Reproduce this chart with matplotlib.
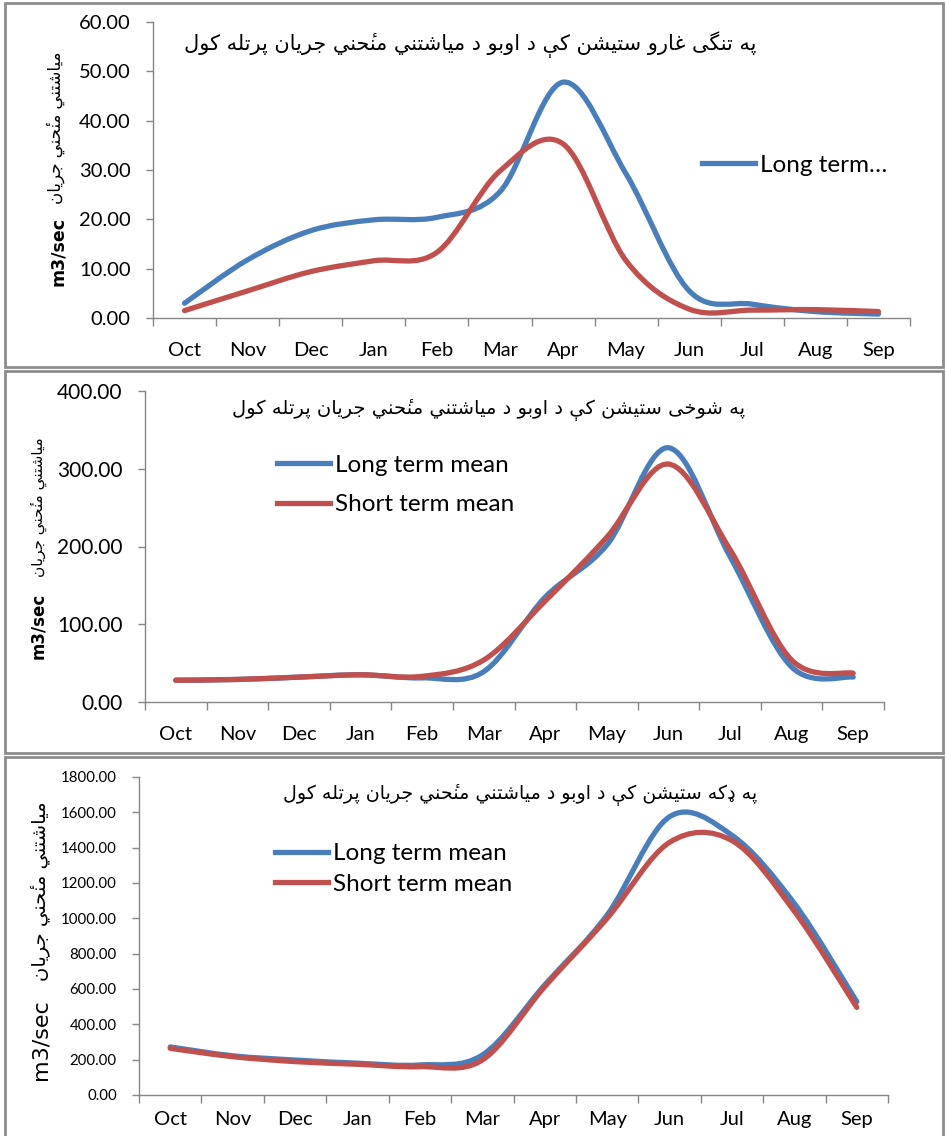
"""
three stacked monthly-mean-flow charts (long term vs short term mean)
for the Tangi Gharu, Shukhi and Dakah stations, Excel-style smoothed lines.
"""
import matplotlib
matplotlib.use("Agg")
import matplotlib.pyplot as plt
from matplotlib.path import Path
from matplotlib.patches import PathPatch, Rectangle
from matplotlib.lines import Line2D
from matplotlib.ticker import FormatStrFormatter, MultipleLocator, FixedLocator

plt.rcParams["font.family"] = ["Lato", "DejaVu Sans"]

MONTHS = ["Oct", "Nov", "Dec", "Jan", "Feb", "Mar",
          "Apr", "May", "Jun", "Jul", "Aug", "Sep"]

# Tangi Gharu
TANGI_LONG = [3.0, 11.8, 17.7, 19.9, 20.4, 25.6, 47.8, 29.2, 5.5, 2.8, 1.3, 0.8]
TANGI_SHORT = [1.5, 5.5, 9.4, 11.6, 13.3, 29.8, 35.3, 11.6, 1.8, 1.6, 1.7, 1.3]
# Shukhi
SHUKHI_LONG = [28, 29, 32, 35, 31, 39, 135, 202, 327, 187, 45, 32]
SHUKHI_SHORT = [28, 29, 32, 35, 33, 54, 130, 212, 306, 196, 54, 37]
# Dakah
DAKAH_LONG = [272, 222, 198, 180, 170, 226, 623, 1019, 1575, 1470, 1084, 528]
DAKAH_SHORT = [264, 217, 189, 174, 160, 198, 613, 1000, 1430, 1440, 1040, 496]

TITLE_TANGI = "په تنگی غارو ستيشن كې د اوبو د مياشتني منځني جريان پرتله كول"
TITLE_SHUKHI = "په شوخی ستيشن كې د اوبو د مياشتني منځني جريان پرتله كول"
TITLE_DAKAH = "په ډكه ستيشن كې د اوبو د مياشتني منځني جريان پرتله كول"
YLABEL_AR = "مياشتني منځني جريان"
UNIT = "m3/sec"

BLUE = "#4a7ebb"
RED = "#c0504d"
AXIS_GREY = "#868686"

W, H = 946, 1136

# --- tiny arabic shaper (matplotlib does no shaping / bidi) ----------------
# iso, final, initial, medial
FORMS = {
    "\u0627": ("\uFE8D", "\uFE8E", None, None),
    "\u0628": ("\uFE8F", "\uFE90", "\uFE91", "\uFE92"),
    "\u067E": ("\uFB56", "\uFB57", "\uFB58", "\uFB59"),
    "\u062A": ("\uFE95", "\uFE96", "\uFE97", "\uFE98"),
    "\u062C": ("\uFE9D", "\uFE9E", "\uFE9F", "\uFEA0"),
    "\u062D": ("\uFEA1", "\uFEA2", "\uFEA3", "\uFEA4"),
    "\u062E": ("\uFEA5", "\uFEA6", "\uFEA7", "\uFEA8"),
    "\u062F": ("\uFEA9", "\uFEAA", None, None),
    "\u0631": ("\uFEAD", "\uFEAE", None, None),
    "\u0633": ("\uFEB1", "\uFEB2", "\uFEB3", "\uFEB4"),
    "\u0634": ("\uFEB5", "\uFEB6", "\uFEB7", "\uFEB8"),
    "\u063A": ("\uFECD", "\uFECE", "\uFECF", "\uFED0"),
    "\u0643": ("\uFED9", "\uFEDA", "\uFEDB", "\uFEDC"),
    "\u06AF": ("\uFB92", "\uFB93", "\uFB94", "\uFB95"),
    "\u0644": ("\uFEDD", "\uFEDE", "\uFEDF", "\uFEE0"),
    "\u0645": ("\uFEE1", "\uFEE2", "\uFEE3", "\uFEE4"),
    "\u0646": ("\uFEE5", "\uFEE6", "\uFEE7", "\uFEE8"),
    "\u0647": ("\uFEE9", "\uFEEA", "\uFEEB", "\uFEEC"),
    "\u0648": ("\uFEED", "\uFEEE", None, None),
    "\u064A": ("\uFEF1", "\uFEF2", "\uFEF3", "\uFEF4"),
    "\u06CC": ("\uFBFC", "\uFBFD", "\uFBFE", "\uFBFF"),
    "\u06D0": ("\uFBE4", "\uFBE5", "\uFBE6", "\uFBE7"),
}
# letters without presentation forms: drawn as base letter + mark
COMPOSED = {"\u0681": ("\u062D", "\u0654")}


def _base(c):
    return COMPOSED[c][0] if c in COMPOSED else c


def shape(text):
    chars = list(text)
    units = []
    for i, ch in enumerate(chars):
        base, mark = COMPOSED.get(ch, (ch, ""))
        f = FORMS.get(base)
        if f is None:
            units.append(ch)
            continue
        prev = _base(chars[i - 1]) if i > 0 else None
        nxt = _base(chars[i + 1]) if i + 1 < len(chars) else None
        jp = prev in FORMS and FORMS[prev][2] is not None
        jn = nxt in FORMS and f[2] is not None
        if jp and jn:
            g = f[3]
        elif jn:
            g = f[2]
        elif jp:
            g = f[1]
        else:
            g = f[0]
        units.append(g + mark)
    return "".join(reversed(units))


def smooth_path(ys):
    """Excel-like smoothed line: cubic beziers through every point."""
    xs = list(range(len(ys)))
    n = len(xs)
    verts = [(xs[0], ys[0])]
    codes = [Path.MOVETO]
    for i in range(n - 1):
        a = i - 1 if i > 0 else i
        d = i + 2 if i + 2 < n else i + 1
        c1 = (xs[i] + (xs[i + 1] - xs[a]) / 6, ys[i] + (ys[i + 1] - ys[a]) / 6)
        c2 = (xs[i + 1] - (xs[d] - xs[i]) / 6, ys[i + 1] - (ys[d] - ys[i]) / 6)
        verts += [c1, c2, (xs[i + 1], ys[i + 1])]
        codes += [Path.CURVE4] * 3
    return Path(verts, codes)


def frac(x, y):
    return x / W, 1 - y / H


fig = plt.figure(figsize=(W / 100, H / 100), dpi=100)

# panel frames
for top, bot in [(3, 367), (371, 753), (757, 1140)]:
    x0, y0 = frac(5, bot)
    fig.add_artist(Rectangle((x0, y0), (943 - 5) / W, (bot - top) / H,
                             transform=fig.transFigure, fill=False,
                             edgecolor="#8c8c8c", lw=2))

PANELS = [
    dict(long=TANGI_LONG, short=TANGI_SHORT, title=TITLE_TANGI,
         rect=(153, 910, 22, 318), ymax=60, step=10, yfs=14.5, xpad=17,
         title_xy=(470, 45), tfs=15,
         unit_xy=(58, 252), unit_bold=True, unit_fs=12.5,
         ar_xy=(56, 128), ar_fs=12,
         legend=dict(labels=["Long term\u2026"], xy=(702, 165), spacing=0.5)),
    dict(long=SHUKHI_LONG, short=SHUKHI_SHORT, title=TITLE_SHUKHI,
         rect=(145, 884, 391, 702), ymax=400, step=100, yfs=15, xpad=17,
         title_xy=(488, 410), tfs=14,
         unit_xy=(38, 626), unit_bold=True, unit_fs=12,
         ar_xy=(39, 507), ar_fs=11,
         legend=dict(labels=["Long term mean", "Short term mean"],
                     xy=(277, 485), spacing=0.75)),
    dict(long=DAKAH_LONG, short=DAKAH_SHORT, title=TITLE_DAKAH,
         rect=(139, 888, 777, 1095), ymax=1800, step=200, yfs=10.8, xpad=11.5,
         title_xy=(520, 795), tfs=13.7,
         unit_xy=(40, 1040), unit_bold=False, unit_fs=16,
         ar_xy=(40, 891), ar_fs=14,
         legend=dict(labels=["Long term mean", "Short term mean"],
                     xy=(275, 869), spacing=0.38)),
]

for p in PANELS:
    l, r, t, b = p["rect"]
    x0, y0 = frac(l, b)
    ax = fig.add_axes([x0, y0, (r - l) / W, (b - t) / H])

    ax.add_patch(PathPatch(smooth_path(p["long"]), fill=False, edgecolor=BLUE,
                           lw=3.8, capstyle="round", joinstyle="round", zorder=3))
    ax.add_patch(PathPatch(smooth_path(p["short"]), fill=False, edgecolor=RED,
                           lw=3.8, capstyle="round", joinstyle="round", zorder=4))

    ax.set_xlim(-0.5, len(MONTHS) - 0.5)
    ax.set_ylim(0, p["ymax"])

    # category axis: marks between months, labels centred
    ax.xaxis.set_major_locator(FixedLocator([i - 0.5 for i in range(len(MONTHS) + 1)]))
    ax.xaxis.set_minor_locator(FixedLocator(list(range(len(MONTHS)))))
    ax.set_xticklabels([], minor=False)
    ax.set_xticklabels(MONTHS, minor=True)
    ax.tick_params(axis="x", which="major", length=6, width=1, color=AXIS_GREY,
                   direction="out")
    ax.tick_params(axis="x", which="minor", length=0, pad=p["xpad"], labelsize=14.5)

    ax.yaxis.set_major_locator(MultipleLocator(p["step"]))
    ax.yaxis.set_major_formatter(FormatStrFormatter("%.2f"))
    ax.tick_params(axis="y", length=5, width=1, color=AXIS_GREY, direction="out",
                   pad=11, labelsize=p["yfs"])

    for s in ["top", "right"]:
        ax.spines[s].set_visible(False)
    for s in ["left", "bottom"]:
        ax.spines[s].set_color(AXIS_GREY)
        ax.spines[s].set_linewidth(1)

    # title (pashto)
    tx, ty = frac(*p["title_xy"])
    fig.text(tx, ty, shape(p["title"]), ha="center", va="center",
             fontsize=p["tfs"], family="DejaVu Sans")

    # y label: unit + pashto text, both rotated
    ux, uy = frac(*p["unit_xy"])
    fig.text(ux, uy, UNIT, rotation=90, ha="center", va="center",
             fontsize=p["unit_fs"], family="DejaVu Sans",
             fontweight="bold" if p["unit_bold"] else "normal")
    axx, ayy = frac(*p["ar_xy"])
    fig.text(axx, ayy, shape(YLABEL_AR), rotation=90, ha="center", va="center",
             fontsize=p["ar_fs"], family="DejaVu Sans")

    lg = p["legend"]
    handles = [Line2D([], [], color=c, lw=3.8) for c in [BLUE, RED][:len(lg["labels"])]]
    lx, ly = frac(*lg["xy"])
    ax.legend(handles, lg["labels"], loc="center left", bbox_to_anchor=(lx, ly),
              bbox_transform=fig.transFigure, frameon=False, fontsize=17.5,
              handlelength=2.2, handletextpad=0.2, borderpad=0, borderaxespad=0,
              labelspacing=lg["spacing"])

fig.savefig("out.png", dpi=100)
